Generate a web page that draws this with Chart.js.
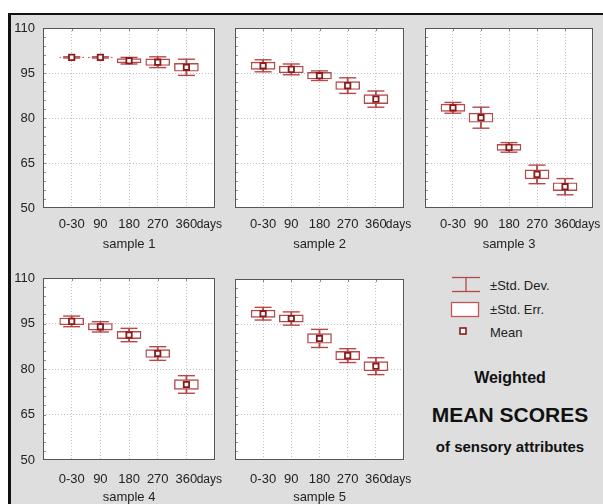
<!DOCTYPE html>
<html>
<head>
<meta charset="utf-8">
<script src="https://cdn.jsdelivr.net/npm/chart.js@4.4.1/dist/chart.umd.min.js"></script>
<style>
  body { margin: 0; background: #fff; }
  #page { position: relative; width: 603px; height: 504px; overflow: hidden; background: #fff;
          font-family: "Liberation Sans", Arial, sans-serif; color: #111; }
  #bg { position: absolute; left: 8px; top: 13px; right: 0; bottom: 0; background: #dedede;
        border-left: 3px solid #111; border-top: 2px solid #111; }
  canvas { position: absolute; }
  .leg { position: absolute; font-size: 13px; line-height: 15px; color: #222; }
  .icon { position: absolute; }
  .ttl { position: absolute; left: 420px; width: 180px; text-align: center; font-weight: bold; color: #111; }
</style>
</head>
<body>
<div id="page">
  <div id="bg"></div>
  <canvas id="p1" width="214" height="240" style="left:11px;top:16px"></canvas>
  <canvas id="p2" width="189" height="240" style="left:225px;top:16px"></canvas>
  <canvas id="p3" width="188" height="240" style="left:415px;top:16px"></canvas>
  <canvas id="p4" width="214" height="240" style="left:11px;top:264px"></canvas>
  <canvas id="p5" width="189" height="240" style="left:225px;top:264px"></canvas>

  <svg class="icon" style="left:451px;top:276px" width="30" height="17">
    <line x1="1" y1="1.5" x2="29" y2="1.5" stroke="#b5484a" stroke-width="1.3"/>
    <line x1="15" y1="1.5" x2="15" y2="15.5" stroke="#b5484a" stroke-width="1.3"/>
    <line x1="1" y1="15.5" x2="29" y2="15.5" stroke="#b5484a" stroke-width="1.3"/>
  </svg>
  <svg class="icon" style="left:450px;top:301px" width="31" height="17">
    <rect x="1.5" y="1.5" width="27" height="14" fill="#fff" stroke="#c25557" stroke-width="1.3"/>
  </svg>
  <svg class="icon" style="left:459px;top:327px" width="9" height="9">
    <rect x="1" y="1" width="6" height="6" fill="#fff" stroke="#8b1a1a" stroke-width="1.6"/>
  </svg>
  <div class="leg" style="left:490px;top:278px">±Std. Dev.</div>
  <div class="leg" style="left:490px;top:302px">±Std. Err.</div>
  <div class="leg" style="left:490px;top:325px">Mean</div>

  <div class="ttl" style="top:369px;font-size:16px;line-height:18px">Weighted</div>
  <div class="ttl" style="top:403px;font-size:21px;line-height:24px">MEAN SCORES</div>
  <div class="ttl" style="top:438px;font-size:15px;line-height:18px">of sensory attributes</div>
</div>

<script>
// categories and tick labels
const dayLabels = ['0-30', '90', '180', '270', '360', 'days'];
const yTickValues = [50, 65, 80, 95, 110];
const sampleNames = ['sample 1', 'sample 2', 'sample 3', 'sample 4', 'sample 5'];

// mean, std. error, std. deviation
const mean1 = [100.2, 100.2, 99.1, 98.6, 96.9];
const se1   = [0.1, 0.1, 0.7, 1.1, 1.3];
const sd1   = [0.2, 0.2, 1.1, 1.8, 2.7];

const mean2 = [97.4, 96.2, 94.1, 90.8, 86.3];
const se2   = [1.2, 1.1, 1.1, 1.3, 1.5];
const sd2   = [2.0, 1.8, 1.6, 2.6, 2.7];

const mean3 = [83.4, 80.1, 70.2, 61.2, 57.1];
const se3   = [1.2, 1.5, 1.0, 1.5, 1.3];
const sd3   = [1.8, 3.5, 1.6, 3.1, 2.7];

const mean4 = [95.7, 93.9, 91.2, 85.1, 74.9];
const se4   = [1.1, 1.1, 1.2, 1.3, 1.6];
const sd4   = [1.75, 1.7, 2.2, 2.25, 2.9];

const mean5 = [98.5, 96.9, 90.3, 84.6, 81.1];
const se5   = [1.2, 1.2, 1.6, 1.4, 1.5];
const sd5   = [2.1, 2.2, 3.0, 2.3, 2.8];

const FONT = '"Liberation Sans", Arial, sans-serif';
const RED = '#b5484a';
const DARK = '#8b1a1a';
const GRID = '#c2c2c2';

// white plot area, frame and small inward ticks
const framePlugin = {
  id: 'frame',
  beforeDraw(chart) {
    const { ctx, chartArea: a } = chart;
    ctx.save();
    ctx.fillStyle = '#fff';
    ctx.fillRect(a.left, a.top, a.width, a.height);
    ctx.restore();
  },
  afterDatasetsDraw(chart) {
    const { ctx, chartArea: a, scales } = chart;
    ctx.save();
    ctx.strokeStyle = '#8a8a8a';
    ctx.lineWidth = 1;
    ctx.beginPath();
    for (let v = 53; v < 110; v += 3) {
      const y = Math.round(scales.y.getPixelForValue(v)) + 0.5;
      ctx.moveTo(a.left, y);
      ctx.lineTo(a.left + 3, y);
    }
    for (let i = 1; i <= 5; i++) {
      const x = Math.round(scales.x.getPixelForValue(i)) + 0.5;
      ctx.moveTo(x, a.top);
      ctx.lineTo(x, a.top + 3);
    }
    ctx.stroke();
    ctx.strokeStyle = '#555';
    ctx.strokeRect(Math.round(a.left) + 0.5, Math.round(a.top) + 0.5,
                   Math.round(a.width) - 1, Math.round(a.height) - 1);
    ctx.restore();
  }
};

function makePanel(id, means, ses, sds, name, opt) {
  const idx = means.map((m, i) => i + 1);
  const whiskers = means.map((m, i) => ({ x: idx[i], y: [m - sds[i], m + sds[i]] }));
  const boxes = means.map((m, i) => ({ x: idx[i], y: [m - ses[i], m + ses[i]] }));
  const caps = means.flatMap((m, i) => [{ x: idx[i], y: m + sds[i] }, { x: idx[i], y: m - sds[i] }]);
  const points = means.map((m, i) => ({ x: idx[i], y: m }));
  const tickPos = [1, 2, 3, 4, 5, 5.8];

  new Chart(document.getElementById(id), {
    type: 'bar',
    data: {
      datasets: [
        { data: whiskers, backgroundColor: RED, barThickness: 1.2, grouped: false, order: 3 },
        { data: boxes, backgroundColor: '#fff', borderColor: RED, borderWidth: 1.4,
          borderSkipped: false, barThickness: 24, grouped: false, order: 2 },
        { type: 'line', data: caps, showLine: false, pointStyle: 'line', pointRadius: 8.5,
          pointBorderColor: RED, pointBorderWidth: 1.4, order: 1 },
        { type: 'line', data: points, showLine: false, pointStyle: 'rect', pointRadius: 3.8,
          pointBackgroundColor: '#fff', pointBorderColor: DARK, pointBorderWidth: 1.8, order: 0 }
      ]
    },
    options: {
      responsive: false,
      animation: false,
      devicePixelRatio: 1,
      events: [],
      layout: { padding: { top: opt.top, right: opt.right, left: 0, bottom: 0 } },
      plugins: { legend: { display: false }, tooltip: { enabled: false } },
      scales: {
        x: {
          type: 'linear', min: 0, max: 6, offset: false,
          afterBuildTicks: s => { s.ticks = tickPos.map(v => ({ value: v })); },
          afterFit: s => { s.height = opt.xh; s.paddingLeft = 0; s.paddingRight = 0; },
          ticks: {
            autoSkip: false, maxRotation: 0, padding: opt.tickPad, color: '#222',
            callback: (v, i) => dayLabels[i],
            font: c => ({ family: FONT, size: c.index === 5 ? 12 : 13 })
          },
          grid: { offset: false, drawTicks: false, color: c => c.index < 5 ? GRID : 'transparent' },
          border: { display: false, dash: [1, 2] },
          title: { display: true, text: name, color: '#222',
                   font: { family: FONT, size: 13, lineHeight: 1 },
                   padding: { top: 0, bottom: opt.tpad } }
        },
        y: {
          min: 50, max: 110,
          afterBuildTicks: s => { s.ticks = yTickValues.map(v => ({ value: v })); },
          afterFit: s => { s.width = opt.yw; s.paddingTop = 0; s.paddingBottom = 0; },
          ticks: { display: opt.showY, padding: 8, color: '#222',
                   font: { family: FONT, size: 13 } },
          grid: { drawTicks: false,
                  color: c => (c.tick && c.tick.value > 50 && c.tick.value < 110) ? GRID : 'transparent' },
          border: { display: false, dash: [1, 2] }
        }
      }
    },
    plugins: [framePlugin]
  });
}

makePanel('p1', mean1, se1, sd1, sampleNames[0], { top: 12, right: 6, yw: 32, xh: 48, tpad: 5, tickPad: 9, showY: true });
makePanel('p2', mean2, se2, sd2, sampleNames[1], { top: 12, right: 6, yw: 7, xh: 48, tpad: 5, tickPad: 9, showY: false });
makePanel('p3', mean3, se3, sd3, sampleNames[2], { top: 12, right: 5, yw: 7, xh: 48, tpad: 5, tickPad: 9, showY: false });
makePanel('p4', mean4, se4, sd4, sampleNames[3], { top: 14, right: 6, yw: 32, xh: 44, tpad: 0, tickPad: 12, showY: true });
makePanel('p5', mean5, se5, sd5, sampleNames[4], { top: 15, right: 6, yw: 7, xh: 44, tpad: 0, tickPad: 12, showY: false });
</script>
</body>
</html>
